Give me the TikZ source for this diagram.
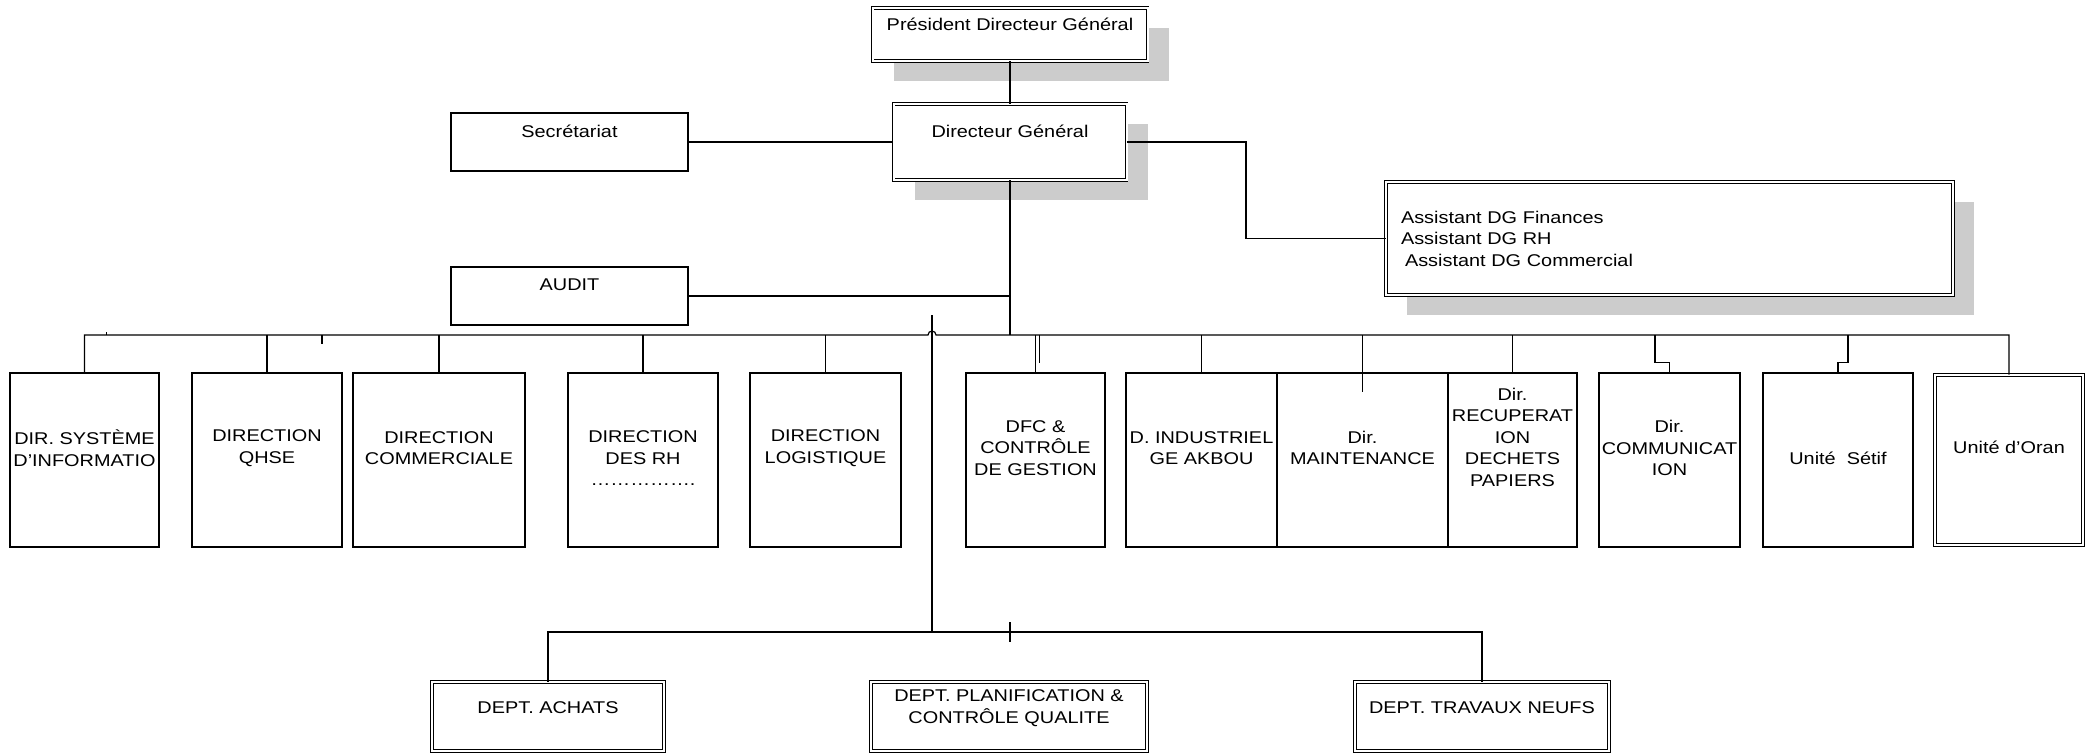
\documentclass[tikz,border=0pt]{standalone}
\usepackage{fontspec}
\setmainfont{Liberation Sans}[FakeStretch=1.17]
\usetikzlibrary{shadows,calc}
\definecolor{shgray}{HTML}{CCCCCC}

\begin{document}
\begin{tikzpicture}[x=1pt,y=-1pt,font=\fontsize{17}{21.5}\selectfont,
   box/.style={draw,fill=white,line width=1.2pt,minimum height=174,inner sep=0pt},
   dbox/.style={draw,fill=white,double,double distance=2pt,line width=0.9pt,inner sep=0pt},
   shd/.style={drop shadow={shadow xshift=21pt,shadow yshift=-20pt,fill=shgray,opacity=1}},
   txt/.style={align=center,yshift=#1},txt/.default=12pt,
   lnk/.style={line width=1.2pt}]
  \useasboundingbox (0,0) rectangle (2094,755);
  % direction generale
  \node[dbox,shd,minimum width=275,minimum height=53,label={[txt=10.5pt]center:Président Directeur Général}] (pdg) at (1010,34.5) {};
  \node[dbox,shd,minimum width=233,minimum height=76,label={[txt=10.5pt]center:Directeur Général}] (dg) at (1010,142) {};
  \node[box,minimum width=237,minimum height=58,label={[txt=11pt]center:Secrétariat}] (sec) at (569.5,142) {};
  \node[box,minimum width=237,minimum height=58,label={[txt=11pt]center:AUDIT}] (audit) at (569.5,296) {};
  \node[dbox,shd,minimum width=567,minimum height=113,text width=537,inner xsep=15,align=left] (asst) at (1669.5,238.5)
    {Assistant DG Finances\\Assistant DG RH\\\hspace*{4pt}Assistant DG Commercial};
  % directions
  \node[box,minimum width=149,label={[txt]center:DIR. SYSTÈME\\D’INFORMATIO}] (dsi) at (84.5,460) {};
  \node[box,minimum width=150,label={[txt]center:DIRECTION\\QHSE}] (qhse) at (267,460) {};
  \node[box,minimum width=172,label={[txt]center:DIRECTION\\COMMERCIALE}] (com) at (439,460) {};
  \node[box,minimum width=150,label={[txt=1.5pt]center:DIRECTION\\DES RH\\…………….}] (rh) at (643,460) {};
  \node[box,minimum width=151,label={[txt]center:DIRECTION\\LOGISTIQUE}] (log) at (825.5,460) {};
  \node[box,minimum width=139,label={[txt]center:DFC \&\\CONTRÔLE\\DE GESTION}] (dfc) at (1035.5,460) {};
  \node[box,minimum width=151,label={[txt]center:D. INDUSTRIEL\\GE AKBOU}] (indus) at (1201.5,460) {};
  \node[box,minimum width=171,label={[txt]center:Dir.\\MAINTENANCE}] (maint) at (1362.5,460) {};
  \node[box,minimum width=129,label={[txt=23pt]center:Dir.\\RECUPERAT\\ION\\DECHETS\\PAPIERS}] (recup) at (1512.5,460) {};
  \node[box,minimum width=141,label={[txt]center:Dir.\\COMMUNICAT\\ION}] (comm) at (1669.5,460) {};
  \node[box,minimum width=150,label={[txt=2pt]center:Unité~~Sétif}] (setif) at (1838,460) {};
  \node[dbox,minimum width=148,minimum height=170,label={[txt=13pt]center:Unité d’Oran}] (oran) at (2009,460) {};
  % departements
  \node[dbox,minimum width=232,minimum height=69,label={[txt=8.5pt]center:DEPT. ACHATS}] (achats) at (548,716.5) {};
  \node[dbox,minimum width=276,minimum height=69,label={[txt=8.5pt]center:DEPT. PLANIFICATION \&\\CONTRÔLE QUALITE}] (planif) at (1009,716.5) {};
  \node[dbox,minimum width=254,minimum height=69,label={[txt=8.5pt]center:DEPT. TRAVAUX NEUFS}] (travaux) at (1482,716.5) {};

  \coordinate (bus) at (0,335);
  \coordinate (lbus) at (0,632);
  \coordinate (lv) at (932,315);

  \draw[lnk] (pdg.south) -- (dg.north);
  \draw[lnk] (sec.east) -- (dg.west);
  \draw[lnk] (dg.east) -- ++(119,0) |- (asst.west);
  \draw[lnk] (audit.east) -- (audit.east -| dg.south);
  \draw[lnk] (dg.south) -- (dg.south |- bus);
  \draw[lnk] (dsi.north) -- (dsi.north |- bus) -- ([xshift=-4pt]lv |- bus)
    arc[start angle=180,end angle=0,radius=4pt] -- (oran.north |- bus) -- (oran.north);
  \draw[lnk] (qhse.north) -- (qhse.north |- bus);
  \draw[lnk] (com.north) -- (com.north |- bus);
  \draw[lnk] (rh.north) -- (rh.north |- bus);
  \draw[lnk] (log.north) -- (log.north |- bus);
  \draw[lnk] (dfc.north) -- (dfc.north |- bus);
  \draw[lnk] ([xshift=4pt]dfc.north |- bus) -- ++(0,28);
  \draw[lnk] (indus.north) -- (indus.north |- bus);
  \draw[lnk] (maint.north |- bus) -- ([yshift=-20pt]maint.north);
  \draw[lnk] (recup.north) -- (recup.north |- bus);
  \draw[lnk] ([xshift=-14.5pt]comm.north |- bus) |- ([yshift=10pt]comm.north) -- (comm.north);
  \draw[lnk] ([xshift=10pt]setif.north |- bus) |- ([yshift=10pt]setif.north) -- (setif.north);
  \draw[lnk] ([xshift=22pt]dsi.north |- bus) -- ++(0,-3);
  \draw[lnk] ([xshift=55pt]qhse.north |- bus) -- ++(0,9);
  % vers les departements
  \draw[lnk] (lv) -- (lv |- lbus);
  \draw[lnk] (achats.north) -- (achats.north |- lbus) -- (travaux.north |- lbus) -- (travaux.north);
  \draw[lnk] ([yshift=10pt]dg.south |- lbus) -- ++(0,20);
\end{tikzpicture}
\end{document}
